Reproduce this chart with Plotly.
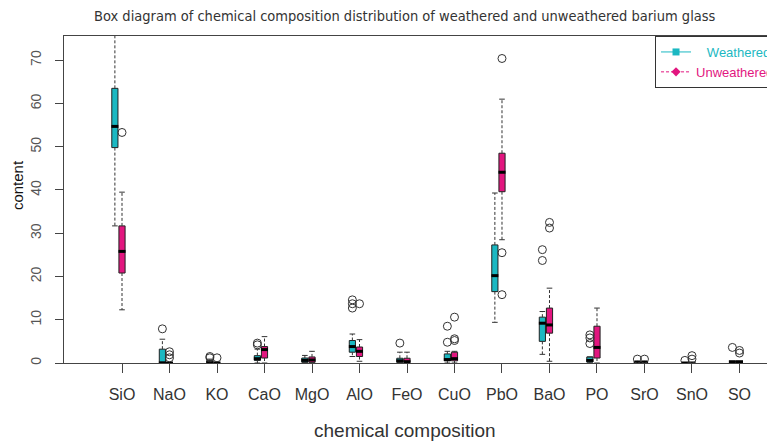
import plotly.graph_objects as go

categories = ["SiO", "NaO", "KO", "CaO", "MgO", "AlO", "FeO", "CuO",
              "PbO", "BaO", "PO", "SrO", "SnO", "SO"]

# Weathered statistics
w_lower  = [31.7, 0.0, 0.0, 0.0, 0.0, 1.5, 0.0, 0.0, 9.4, 2.0, 0.0, 0.0, 0.0, 0.3]
w_q1     = [49.8, 0.0, 0.0, 0.6, 0.15, 2.5, 0.15, 0.5, 16.5, 5.0, 0.2, 0.0, 0.0, 0.3]
w_median = [54.7, 0.0, 0.2, 1.0, 0.6, 3.8, 0.5, 0.8, 20.2, 9.2, 0.6, 0.1, 0.0, 0.3]
w_q3     = [63.5, 3.2, 0.5, 1.7, 1.15, 5.2, 1.1, 2.1, 27.3, 10.6, 1.4, 0.3, 0.0, 0.3]
w_upper  = [80.0, 5.5, 0.9, 3.2, 1.75, 6.7, 2.5, 2.7, 39.3, 11.9, 1.4, 0.5, 0.0, 0.3]
w_outliers = [[], [7.9], [1.5, 1.2], [4.6, 4.2], [], [14.6, 13.7, 12.7], [4.6],
              [8.5, 4.8], [], [26.2, 23.7], [6.5, 5.8, 4.5], [0.9], [0.6], [3.6]]

# Unweathered statistics
u_lower  = [12.3, 0.0, 0.0, 0.0, 0.0, 0.4, 0.0, 0.0, 28.5, 0.4, 0.0, 0.0, 0.0, 0.3]
u_q1     = [20.8, 0.0, 0.0, 1.15, 0.15, 1.5, 0.15, 0.5, 39.6, 6.9, 1.15, 0.0, 0.0, 0.3]
u_median = [25.8, 0.0, 0.0, 3.1, 0.7, 2.7, 0.3, 1.0, 44.1, 8.8, 3.6, 0.1, 0.0, 0.3]
u_q3     = [31.7, 0.0, 0.0, 3.8, 1.4, 3.7, 1.1, 2.5, 48.5, 12.7, 8.5, 0.3, 0.0, 0.3]
u_upper  = [39.5, 0.0, 0.0, 6.1, 2.7, 5.4, 2.5, 2.7, 61.0, 17.3, 12.7, 0.5, 0.0, 0.3]
u_outliers = [[53.3], [2.6, 1.9, 1.2], [1.2], [], [], [13.7], [], [10.6, 5.6, 5.2],
              [70.4, 25.5, 15.8], [32.5, 31.2], [], [0.9], [1.7, 0.9], [2.9, 2.3]]

W_COLOR = "#1BB8C2"
U_COLOR = "#E2167F"
BOX_W = 0.13
positions = list(range(1, len(categories) + 1))
w_pos = [p - 0.15 for p in positions]
u_pos = list(positions)

fig = go.Figure()


def add_group(pos, lower, q1, med, q3, upper, outliers, color):
    # dashed whiskers
    wx, wy = [], []
    for p, lo, a, b, hi in zip(pos, lower, q1, q3, upper):
        wx += [p, p, None, p, p, None]
        wy += [b, hi, None, a, lo, None]
    fig.add_trace(go.Scatter(x=wx, y=wy, mode="lines",
                             line=dict(color="#333", width=1, dash="3px,2px"),
                             showlegend=False, hoverinfo="skip"))
    # whisker caps
    fig.add_trace(go.Scatter(x=pos + pos, y=upper + lower, mode="markers",
                             marker=dict(symbol="line-ew", size=4,
                                         line=dict(color="#333", width=1)),
                             showlegend=False, hoverinfo="skip"))
    # boxes
    fig.add_trace(go.Box(x=pos, q1=q1, median=med, q3=q3,
                         lowerfence=q1, upperfence=q3,
                         width=BOX_W, whiskerwidth=0, boxpoints=False,
                         fillcolor=color, line=dict(color="#222", width=1),
                         showlegend=False))
    # thick medians
    fig.add_trace(go.Scatter(x=pos, y=med, mode="markers",
                             marker=dict(symbol="line-ew", size=5,
                                         line=dict(color="black", width=3)),
                             showlegend=False, hoverinfo="skip"))
    # outliers
    ox, oy = [], []
    for p, outs in zip(pos, outliers):
        for v in outs:
            ox.append(p)
            oy.append(v)
    fig.add_trace(go.Scatter(x=ox, y=oy, mode="markers",
                             marker=dict(symbol="circle-open", size=8,
                                         line=dict(color="#333", width=1), color="#333"),
                             showlegend=False, hoverinfo="skip"))


add_group(w_pos, w_lower, w_q1, w_median, w_q3, w_upper, w_outliers, W_COLOR)
add_group(u_pos, u_lower, u_q1, u_median, u_q3, u_upper, u_outliers, U_COLOR)

# legend entries
fig.add_trace(go.Scatter(x=[None], y=[None], mode="lines+markers",
                         name="<span style='color:%s'>   Weathered</span>" % W_COLOR,
                         line=dict(color=W_COLOR, width=1),
                         marker=dict(symbol="square", size=7, color=W_COLOR)))
fig.add_trace(go.Scatter(x=[None], y=[None], mode="lines+markers",
                         name="<span style='color:%s'>Unweathered</span>" % U_COLOR,
                         line=dict(color=U_COLOR, width=1, dash="3px,2px"),
                         marker=dict(symbol="diamond", size=7, color=U_COLOR)))

# The page body adds an 8px offset; the layout compensates for it.
fig.update_layout(
    width=775, height=441,
    margin=dict(l=56, r=0, t=28, b=86, autoexpand=False),
    plot_bgcolor="white", paper_bgcolor="white",
    boxmode="overlay",
    font=dict(family="Liberation Sans, Arial, sans-serif", color="#333"),
    legend=dict(x=0.822, y=1.0, xanchor="left", yanchor="top",
                bordercolor="#333", borderwidth=1, bgcolor="white",
                font=dict(size=13)),
    xaxis=dict(range=[-0.2211, 14.916], tickmode="array", tickvals=positions,
               ticktext=categories, showgrid=False, zeroline=False,
               showline=True, linecolor="#444", linewidth=1, mirror=True,
               ticks="outside", ticklen=9, tickcolor="#444",
               tickfont=dict(size=16, color="#333"), ticklabelstandoff=8),
    yaxis=dict(range=[0, 75.6], tickmode="array", tickvals=[0, 10, 20, 30, 40, 50, 60, 70],
               showgrid=False, zeroline=False, showline=True, linecolor="#444",
               linewidth=1, ticks="outside", ticklen=8, tickcolor="#444",
               tickangle=-90, tickfont=dict(size=14, color="#555"),
               ticklabelstandoff=8),
    annotations=[
        dict(text="Box diagram of chemical composition distribution of weathered and unweathered barium glass",
             xref="paper", yref="paper", x=0.474, y=1.061, xanchor="center", yanchor="middle",
             showarrow=False,
             font=dict(family="Liberation Sans Narrow, Arial Narrow, DejaVu Sans Condensed, sans-serif",
                       size=14.5, color="#333")),
        dict(text="chemical composition", xref="paper", yref="paper",
             x=0.474, y=-0.205, xanchor="center", yanchor="middle", showarrow=False,
             font=dict(size=19, color="#333")),
        dict(text="content", xref="paper", yref="paper", textangle=-90,
             x=-0.0654, y=0.544, xanchor="center", yanchor="middle", showarrow=False,
             font=dict(size=15, color="#111")),
    ],
)

fig.write_html("out.html")
